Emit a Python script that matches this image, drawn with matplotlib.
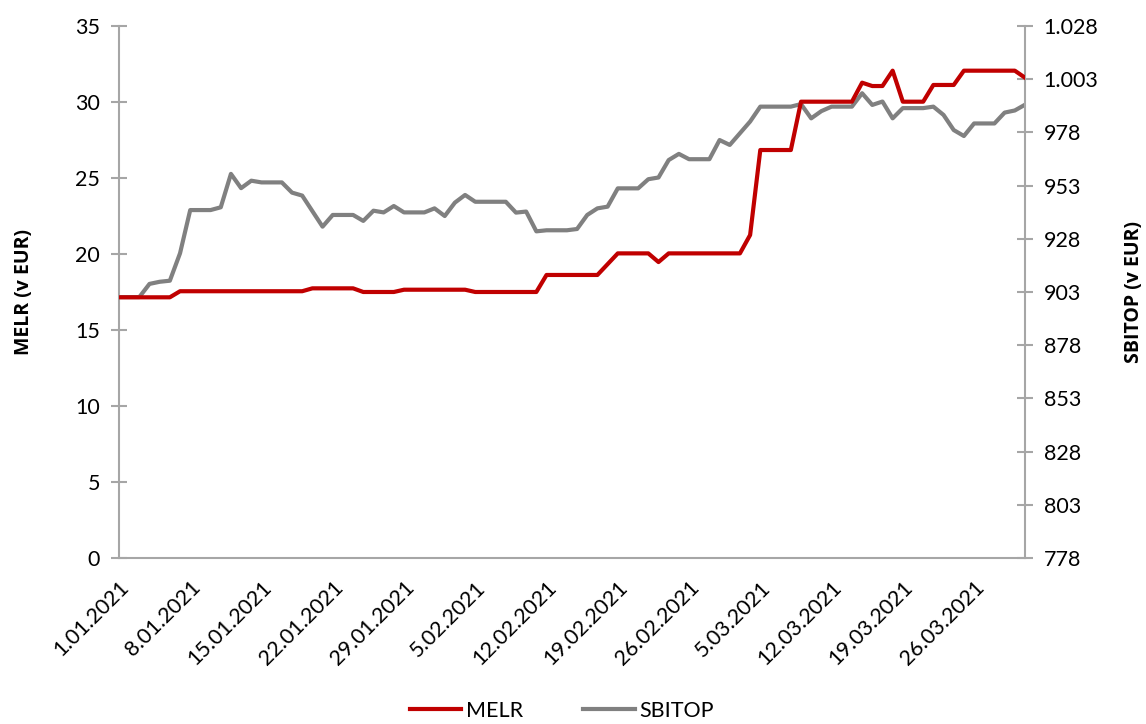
import matplotlib.pyplot as plt
import pandas as pd

plt.rcParams['font.family'] = ['Lato', 'DejaVu Sans']

# daily values 1.01.2021 - 31.03.2021 (weekends carry the Friday value)
dates = pd.date_range('2021-01-01', '2021-03-31', freq='D')

melr = [17.15, 17.15, 17.15, 17.15, 17.15, 17.15,
        17.55, 17.55, 17.55, 17.55, 17.55, 17.55, 17.55, 17.55, 17.55, 17.55, 17.55, 17.55, 17.55,
        17.74, 17.74, 17.74, 17.74, 17.74,
        17.5, 17.5, 17.5, 17.5,
        17.65, 17.65, 17.65, 17.65, 17.65, 17.65, 17.65,
        17.5, 17.5, 17.5, 17.5, 17.5, 17.5, 17.5,
        18.62, 18.62, 18.62, 18.62, 18.62, 18.62,
        19.33,
        20.04, 20.04, 20.04, 20.04,
        19.47,
        20.04, 20.04, 20.04, 20.04, 20.04, 20.04, 20.04, 20.04,
        21.25,
        26.84, 26.84, 26.84, 26.84,
        30.02, 30.02, 30.02, 30.02, 30.02, 30.02,
        31.27,
        31.05, 31.05,
        32.06,
        30.02, 30.02, 30.02,
        31.12, 31.12, 31.12,
        32.06, 32.06, 32.06, 32.06, 32.06, 32.06,
        31.6]

sbitop = [900.6, 900.6, 900.6, 906.8, 907.8, 908.3, 921.2,
          941.5, 941.5, 941.5, 942.8, 958.5, 951.8, 955.3,
          954.5, 954.5, 954.5, 949.7, 948.3, 941.0, 933.7,
          939.2, 939.2, 939.2, 936.4, 941.2, 940.4, 943.4,
          940.4, 940.4, 940.4, 942.3, 938.7, 945.0, 948.6,
          945.4, 945.4, 945.4, 945.4, 940.3, 940.8, 931.5,
          932.0, 932.0, 932.0, 932.6, 939.2, 942.3, 943.1,
          951.7, 951.7, 951.7, 956.0, 956.8, 965.0, 967.9,
          965.4, 965.4, 965.4, 974.4, 972.1, 977.6, 983.1,
          990.1, 990.1, 990.1, 990.1, 991.3, 984.6, 988.0,
          990.1, 990.1, 990.1, 996.4, 990.9, 992.5, 984.6,
          989.4, 989.4, 989.4, 990.1, 986.2, 979.1, 976.3,
          982.2, 982.2, 982.2, 987.3, 988.3, 991.0]

tick_dates = pd.to_datetime(['2021-01-01', '2021-01-08', '2021-01-15', '2021-01-22', '2021-01-29',
                             '2021-02-05', '2021-02-12', '2021-02-19', '2021-02-26',
                             '2021-03-05', '2021-03-12', '2021-03-19', '2021-03-26'])
tick_labels = ['1.01.2021', '8.01.2021', '15.01.2021', '22.01.2021', '29.01.2021',
               '5.02.2021', '12.02.2021', '19.02.2021', '26.02.2021',
               '5.03.2021', '12.03.2021', '19.03.2021', '26.03.2021']

left_ticks = [0, 5, 10, 15, 20, 25, 30, 35]
right_ticks = [778, 803, 828, 853, 878, 903, 928, 953, 978, 1003, 1028]
right_labels = ['778', '803', '828', '853', '878', '903', '928', '953', '978', '1.003', '1.028']

red = '#C00000'
grey = '#808080'
axis_col = '#A6A6A6'

fig = plt.figure(figsize=(11.46, 7.24), dpi=100)
ax = fig.add_axes([0.1038, 0.2293, 0.7906, 0.7348])
ax2 = ax.twinx()

l1, = ax.plot(dates, melr, color=red, lw=3, label='MELR', zorder=3)
l2, = ax2.plot(dates, sbitop, color=grey, lw=3, label='SBITOP', zorder=2)
ax.set_zorder(ax2.get_zorder() + 1)
ax.patch.set_visible(False)

ax.set_xlim(dates[0], dates[-1])
ax.set_ylim(0, 35)
ax2.set_ylim(778, 1028)

ax.set_yticks(left_ticks)
ax2.set_yticks(right_ticks)
ax2.set_yticklabels(right_labels)
ax.set_xticks(tick_dates)
ax.set_xticklabels(tick_labels, rotation=45, ha='right', rotation_mode='anchor')

for a in (ax, ax2):
    a.spines['top'].set_visible(False)
    for s in ('left', 'right', 'bottom'):
        a.spines[s].set_color(axis_col)
        a.spines[s].set_linewidth(1.5)
    a.tick_params(axis='y', direction='inout', length=11, width=1.5, color=axis_col,
                  labelsize=15.5, pad=8)
ax.tick_params(axis='x', length=0, labelsize=15.5, pad=14)
ax.spines['right'].set_visible(False)
ax2.spines['left'].set_visible(False)
ax2.spines['bottom'].set_visible(False)

# bold axis titles (Lato has no bold face here)
bold = dict(family=['Open Sans', 'DejaVu Sans'], fontsize=14, fontweight='bold')
ax.set_ylabel('MELR (v EUR)', labelpad=30, **bold)
ax2.set_ylabel('SBITOP (v EUR)', rotation=90, labelpad=18, **bold)

fig.legend(handles=[l1, l2], loc='center', bbox_to_anchor=(0.49, 0.018), ncol=2,
           frameon=False, fontsize=15.5, handlelength=2.4, handletextpad=0.2,
           columnspacing=2.8)

fig.savefig('out.png', dpi=100)
